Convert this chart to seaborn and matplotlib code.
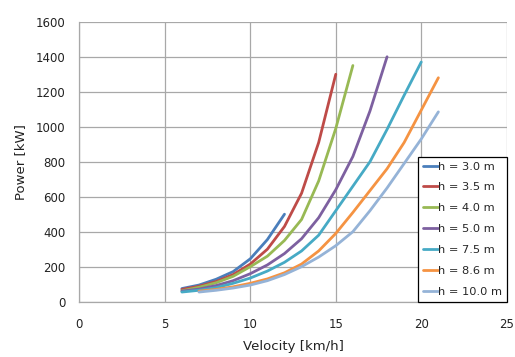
"""Power vs velocity curves for several water depths."""
import numpy as np
import pandas as pd
import matplotlib
matplotlib.use("Agg")
import matplotlib.pyplot as plt
import seaborn as sns

# depth labels and colours (Excel-style palette)
depths = ["h = 3.0 m", "h = 3.5 m", "h = 4.0 m", "h = 5.0 m",
          "h = 7.5 m", "h = 8.6 m", "h = 10.0 m"]
colors = ["#4a7ebb", "#be4b48", "#98b954", "#7d60a0",
          "#46aac5", "#f59342", "#95b3d7"]

# velocity [km/h] per curve
v_30 = [6, 7, 8, 9, 10, 11, 12]
v_35 = [6, 7, 8, 9, 10, 11, 12, 13, 14, 15]
v_40 = [6, 7, 8, 9, 10, 11, 12, 13, 14, 15, 16]
v_50 = [6, 7, 8, 9, 10, 11, 12, 13, 14, 15, 16, 17, 18]
v_75 = [6, 7, 8, 9, 10, 11, 12, 13, 14, 15, 16, 17, 18, 19, 20]
v_86 = [7, 8, 9, 10, 11, 12, 13, 14, 15, 16, 17, 18, 19, 20, 21]
v_100 = [7, 8, 9, 10, 11, 12, 13, 14, 15, 16, 17, 18, 19, 20, 21]

# power [kW] per curve
p_30 = [75, 95, 128, 172, 245, 355, 500]
p_35 = [70, 88, 115, 155, 215, 300, 430, 620, 910, 1300]
p_40 = [62, 82, 108, 145, 200, 260, 350, 470, 690, 990, 1350]
p_50 = [60, 72, 92, 120, 160, 210, 275, 360, 480, 640, 830, 1090, 1400]
p_75 = [55, 65, 80, 105, 135, 175, 225, 290, 380, 520, 660, 800, 985, 1180, 1370]
p_86 = [60, 70, 85, 105, 130, 165, 215, 290, 390, 510, 635, 760, 910, 1095, 1280]
p_100 = [55, 65, 78, 95, 120, 155, 200, 255, 320, 400, 520, 650, 790, 930, 1085]

velocities = [v_30, v_35, v_40, v_50, v_75, v_86, v_100]
powers = [p_30, p_35, p_40, p_50, p_75, p_86, p_100]

frames = []
for name, v, p in zip(depths, velocities, powers):
    frames.append(pd.DataFrame({"velocity": v, "power": p, "depth": name}))
df = pd.concat(frames, ignore_index=True)

sns.set_style("white")
plt.rcParams["font.family"] = ["DejaVu Sans"]

fig = plt.figure(figsize=(5.15, 3.57), dpi=100)
ax = fig.add_axes([0.154, 0.155, 0.830, 0.784])

sns.lineplot(data=df, x="velocity", y="power", hue="depth",
             hue_order=depths, palette=colors, sort=False,
             estimator=None, linewidth=2.0, ax=ax)

ax.set_xlim(0, 25)
ax.set_ylim(0, 1600)
ax.set_xticks(np.arange(0, 26, 5))
ax.set_yticks(np.arange(0, 1601, 200))
ax.grid(True, color="#a8a8a8", linewidth=0.9)
ax.set_axisbelow(True)
for side in ["top", "right"]:
    ax.spines[side].set_visible(False)
for side in ["left", "bottom"]:
    ax.spines[side].set_color("#a8a8a8")
    ax.spines[side].set_linewidth(0.9)
ax.tick_params(axis="both", which="both", length=4, width=0.9,
               color="#a8a8a8", labelsize=8.5, labelcolor="#222222")
ax.tick_params(axis="x", pad=8)
ax.tick_params(axis="y", pad=6)

ax.set_xlabel("Velocity [km/h]", fontsize=9.5, color="#222222", labelpad=6)
ax.set_ylabel("Power [kW]", fontsize=9.5, color="#222222", labelpad=6)

leg = ax.legend(loc="lower right", borderaxespad=0, fancybox=False,
                framealpha=1, edgecolor="black", fontsize=8.2,
                handlelength=1.3, handletextpad=0.05, labelspacing=0.96,
                borderpad=0.4)
leg.get_frame().set_linewidth(0.9)

fig.savefig("out.png", dpi=100)
